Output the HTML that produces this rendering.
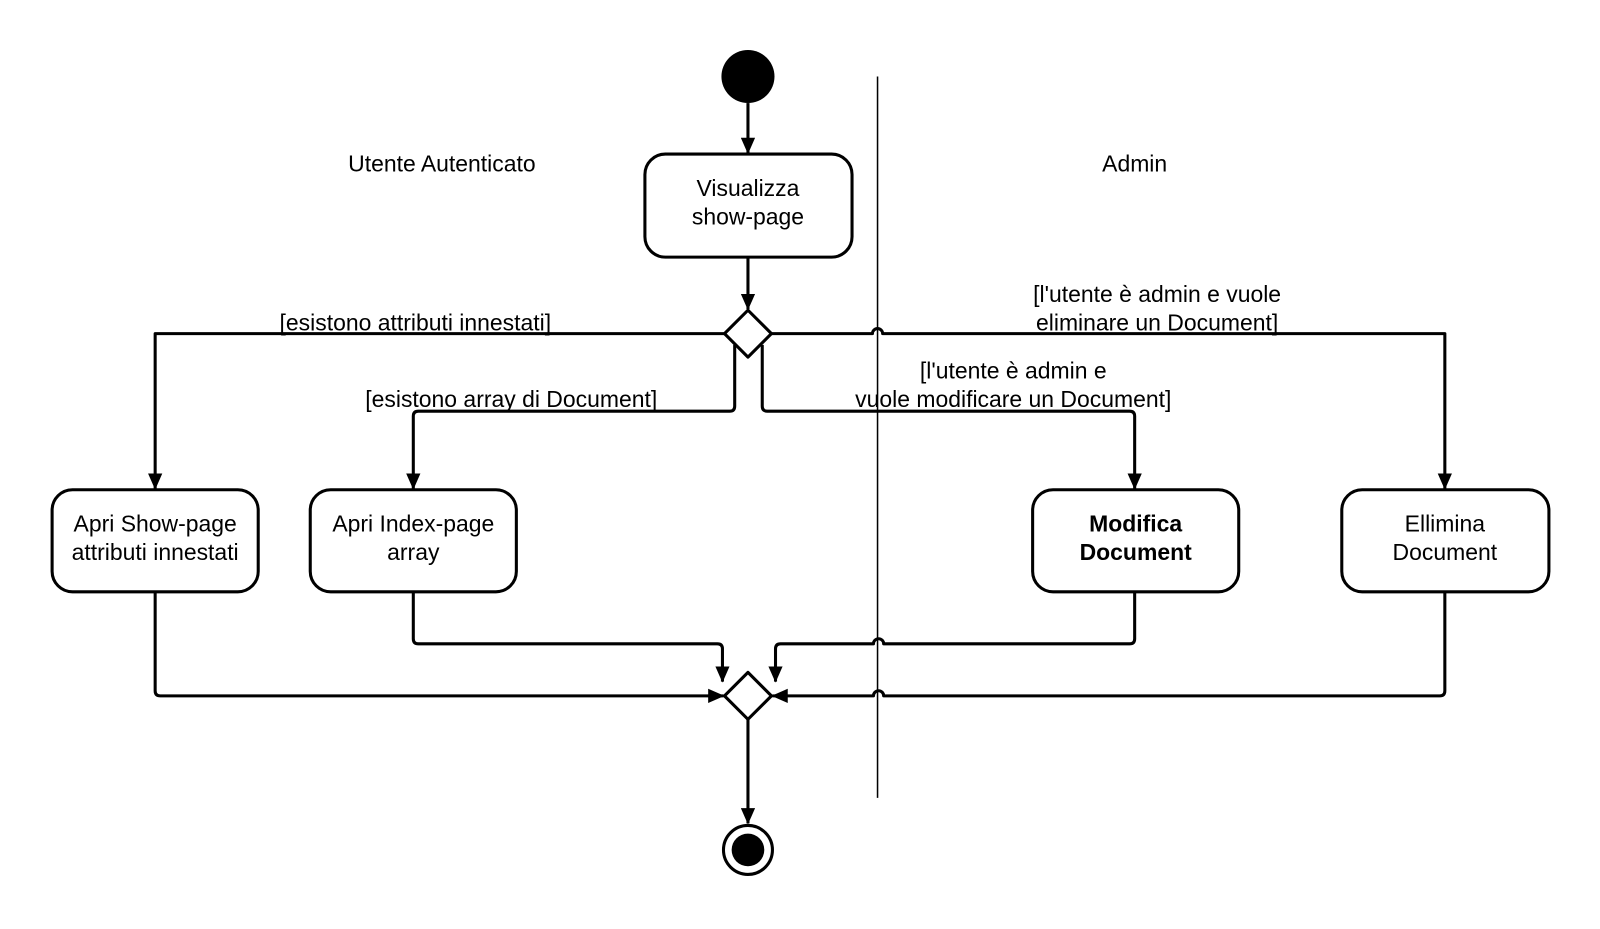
<!DOCTYPE html>
<html><head><meta charset="utf-8"><style>
html,body{margin:0;padding:0;background:#fff;}
svg{display:block;}
text{font-family:"Liberation Sans",sans-serif;font-size:22.5px;fill:#000;text-anchor:middle;}
</style></head><body>
<svg width="1600" height="929" viewBox="0 0 1568 910.5" xmlns="http://www.w3.org/2000/svg">
<defs>
<marker id="a" markerWidth="16" markerHeight="14" refX="15" refY="7" orient="auto" markerUnits="userSpaceOnUse">
<path d="M0,0 L16,7 L0,14 z" fill="#000"/></marker>
</defs>
<g fill="none" stroke="#000" stroke-width="3" stroke-linejoin="round">
<circle cx="733" cy="75" r="26" fill="#000" stroke="none"/>
<line x1="733" y1="101" x2="733" y2="150" marker-end="url(#a)"/>
<rect x="632" y="151" width="203" height="101" rx="20" fill="#fff"/>
<line x1="733" y1="252" x2="733" y2="303" marker-end="url(#a)"/>
<path d="M733,304 L756,327 L733,350 L710,327 Z" fill="#fff"/>
<path d="M710,327 H152 V479" marker-end="url(#a)"/>
<path d="M756,327 H855 a5,5 0 0 1 10,0 H1416 V479" marker-end="url(#a)"/>
<path d="M720,338 V398 Q720,403 715,403 H410 Q405,403 405,408 V479" marker-end="url(#a)"/>
<path d="M747,338 V398 Q747,403 752,403 H1107 Q1112,403 1112,408 V479" marker-end="url(#a)"/>
<rect x="51" y="480" width="202" height="100" rx="20" fill="#fff"/>
<rect x="304" y="480" width="202" height="100" rx="20" fill="#fff"/>
<rect x="1012" y="480" width="202" height="100" rx="20" fill="#fff"/>
<rect x="1315" y="480" width="203" height="100" rx="20" fill="#fff"/>
<path d="M152,580 V677 Q152,682 157,682 H709" marker-end="url(#a)"/>
<path d="M405,580 V626 Q405,631 410,631 H703 Q708,631 708,636 V668" marker-end="url(#a)"/>
<path d="M1112,580 V626 Q1112,631 1107,631 H866 a5,5 0 0 0 -10,0 H765 Q760,631 760,636 V668" marker-end="url(#a)"/>
<path d="M1416,580 V677 Q1416,682 1411,682 H866 a5,5 0 0 0 -10,0 H757" marker-end="url(#a)"/>
<path d="M733,659 L756,682 L733,705 L710,682 Z" fill="#fff"/>
<line x1="733" y1="705" x2="733" y2="807" marker-end="url(#a)"/>
<circle cx="733" cy="833" r="24" fill="#fff"/>
<circle cx="733" cy="833" r="16" fill="#000" stroke="none"/>
</g>
<line x1="860" y1="75" x2="860" y2="782" stroke="#000" stroke-width="1.5"/>
<text x="433" y="168">Utente Autenticato</text>
<text x="1112" y="168">Admin</text>
<text x="733" y="192">Visualizza</text>
<text x="733" y="220">show-page</text>
<text x="407" y="324">[esistono attributi innestati]</text>
<text x="1134" y="296">[l'utente è admin e vuole</text>
<text x="1134" y="324">eliminare un Document]</text>
<text x="501" y="399">[esistono array di Document]</text>
<text x="993" y="371">[l'utente è admin e</text>
<text x="993" y="399">vuole modificare un Document]</text>
<text x="152" y="521">Apri Show-page</text>
<text x="152" y="549">attributi innestati</text>
<text x="405" y="521">Apri Index-page</text>
<text x="405" y="549">array</text>
<text x="1113" y="521" font-weight="bold">Modifica</text>
<text x="1113" y="549" font-weight="bold">Document</text>
<text x="1416" y="521">Ellimina</text>
<text x="1416" y="549">Document</text>
</svg>
</body></html>
